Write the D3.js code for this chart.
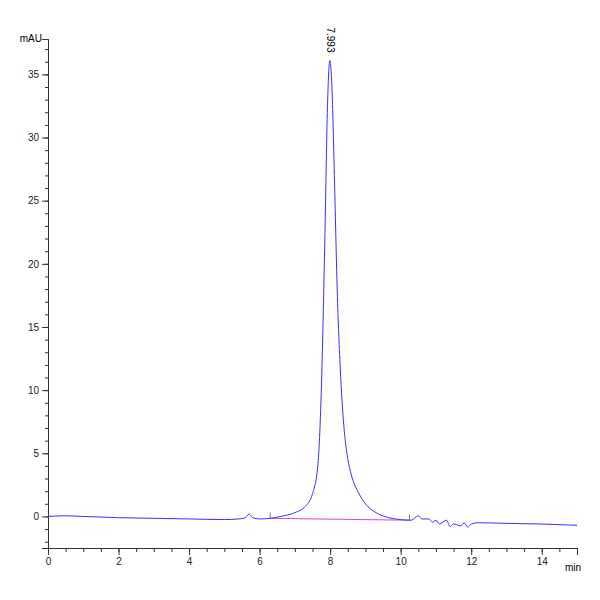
<!DOCTYPE html>
<html><head><meta charset="utf-8">
<script src="https://cdn.jsdelivr.net/npm/d3@7"></script>
<style>body{margin:0;background:#fff}text{font-family:"Liberation Sans",Arial,sans-serif}</style>
</head><body><svg id="chart" width="600" height="600"></svg>
<script>
// signal trace (min, mAU)
var times = [0,0.5,1,2,3,4,5,5.4,5.6,5.7,5.8,6,6.3,6.6,7,7.3,7.5,7.65,7.75,7.85,7.93,7.993,8.05,8.12,8.2,8.3,8.4,8.5,8.6,8.8,9,9.3,9.6,10,10.3,10.5,10.6,10.8,10.9,11.0,11.1,11.3,11.4,11.5,11.7,11.8,11.9,12.0,12.2,13,14,15];
var signal = [0,0.05,0,-0.1,-0.15,-0.2,-0.25,-0.2,-0.1,0.2,-0.1,-0.2,-0.15,0,0.3,0.8,1.8,4,10,22,33,36.1,34,27,18,11,6.8,4.6,3.3,1.9,1.0,0.3,-0.05,-0.25,-0.3,0.05,-0.2,-0.2,-0.45,-0.3,-0.6,-0.3,-0.8,-0.6,-0.75,-0.5,-0.85,-0.6,-0.5,-0.55,-0.6,-0.7];
var baseX = [6.3, 10.25];
var baseY = [-0.15, -0.3];
var peakLabel = "7.993";
var yTicks = [0,5,10,15,20,25,30,35];
var xTicks = [0,2,4,6,8,10,12,14];

var svg = d3.select("#chart");
var x = d3.scaleLinear().domain([0,15]).range([48,577]);
var y = d3.scaleLinear().domain([-2.5,37.8]).range([548,39]);

var yAxis = d3.axisLeft(y).tickValues(d3.range(-2,38,1)).tickSize(3).tickFormat("");
svg.append("g").attr("transform","translate(48,0)").call(yAxis);
svg.append("g").attr("transform","translate(48,0)")
    .call(d3.axisLeft(y).tickValues(yTicks).tickSize(6).tickFormat(d3.format("d")));
svg.append("g").attr("transform","translate(0,548)")
    .call(d3.axisBottom(x).tickValues(d3.range(0,15.01,0.5)).tickSize(4).tickFormat(""));
svg.append("g").attr("transform","translate(0,548)")
    .call(d3.axisBottom(x).tickValues(xTicks).tickSize(7).tickFormat(d3.format("d")));
svg.selectAll(".domain").attr("stroke","#333");
svg.selectAll(".tick line").attr("stroke","#333");
svg.selectAll(".tick text").attr("font-size",10).attr("fill","#222");

svg.append("text").attr("x",42).attr("y",42).attr("text-anchor","end").attr("font-size",10).text("mAU");
svg.append("text").attr("x",565).attr("y",571).attr("font-size",10).text("min");

var pts = times.map(function(t,i){ return [t, signal[i]]; });
var line = d3.line().x(function(d){return x(d[0]);}).y(function(d){return y(d[1]);}).curve(d3.curveMonotoneX);

svg.append("path").datum([[baseX[0],baseY[0]],[baseX[1],baseY[1]]])
    .attr("d", d3.line().x(function(d){return x(d[0]);}).y(function(d){return y(d[1]);}))
    .attr("stroke","#e040e0").attr("stroke-width",1).attr("fill","none");
svg.selectAll(".mark").data(baseX).enter().append("line")
    .attr("x1",function(d){return x(d);}).attr("x2",function(d){return x(d);})
    .attr("y1",function(d,i){return y(baseY[i])-6;}).attr("y2",function(d,i){return y(baseY[i]);})
    .attr("stroke","#555").attr("stroke-width",0.7);

svg.append("path").datum(pts).attr("d",line)
    .attr("stroke","#3333ff").attr("stroke-width",1).attr("fill","none");

svg.append("text").attr("transform","translate("+(x(7.993)-3)+","+(y(36.1)-33)+") rotate(90)")
    .attr("font-size",10).text(peakLabel);
</script></body></html>
